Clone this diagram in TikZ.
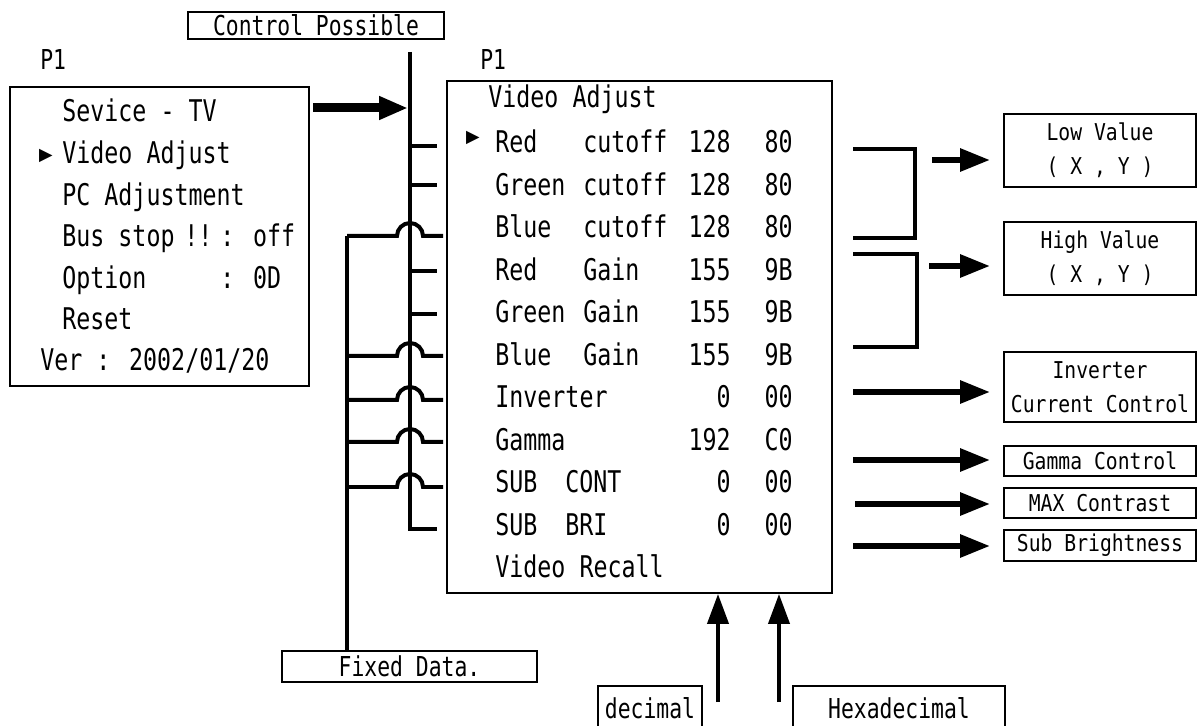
\documentclass[tikz,border=0pt]{standalone}
\usepackage{fontspec}
\usepackage{tikz}
\usetikzlibrary{arrows.meta, positioning}
\newfontfamily\dispfont[FakeStretch=0.78]{DejaVu Sans Mono}
\newfontfamily\tagfont[FakeStretch=0.85]{DejaVu Sans Mono}
\newfontfamily\symfont{DejaVu Sans}

\begin{document}
\begin{tikzpicture}[
    x=0.02cm, y=-0.02cm,
    box/.style = {draw, line width=0.04cm, inner sep=0pt},
    title/.style = {box, font=\dispfont\fontsize{15.6pt}{18pt}\selectfont},
    tag/.style = {box, minimum width=3.84cm, align=center, font=\tagfont\fontsize{13.2pt}{19.3pt}\selectfont},
    item/.style = {anchor=base west, inner sep=0pt, font=\dispfont\fontsize{17pt}{20pt}\selectfont},
    val/.style = {item, anchor=base east},
    page/.style = {anchor=base west, inner sep=0pt, font=\dispfont\fontsize{15.6pt}{18pt}\selectfont},
    pointer/.style = {inner sep=0pt, font=\symfont\fontsize{10pt}{10pt}\selectfont},
    bus/.style = {line width=0.08cm},
    fat/.style = {line width=0.12cm, -{Triangle[length=0.6cm, width=0.44cm]}, shorten >=0.26cm},
    feed/.style = {line width=0.08cm, -{Triangle[length=0.6cm, width=0.42cm]}},
    enter/.style = {line width=0.18cm, -{Triangle[length=0.58cm, width=0.44cm]}, shorten >=0.04cm}
]
\useasboundingbox (0,0) rectangle (1198,726);
\clip (0,0) rectangle (1198,726);

% Top label and page names
\node (ctrl) [title, minimum width=5.12cm, minimum height=0.54cm] at (316,25.5) {Control Possible};
\node (p1l) [page] at (40,70) {P1};
\node (p1r) [page] at (480,70) {P1};

% Service menu (left)
\node (svcmenu) [box, minimum width=5.98cm, minimum height=5.98cm] at (159.5,236.5) {};
\node (sv1) [item] at (62,122) {Sevice - TV};
\node (svmark) [pointer] at (46,156) {▶};
\node (sv2) [item] at (62,164) {Video Adjust};
\node (sv3) [item] at (62,206) {PC Adjustment};
\node (sv4) [item] at (62,247) {Bus stop};
\node (sv4x) [item] at (184,247) {!!};
\node (sv4v) [item] at (220,247) {: off};
\node (sv5) [item] at (62,289) {Option};
\node (sv5v) [item] at (220,289) {: 0D};
\node (sv6) [item] at (62,330) {Reset};
\node (sv7) [item] at (40,371) {Ver : 2002/01/20};

% Video Adjust menu (centre)
\node (menu) [box, minimum width=7.7cm, minimum height=10.24cm] at (639.5,337) {};
\node (vhead) [item] at (488,108) {Video Adjust};
\node (vmark) [pointer] at (473,138) {▶};
\node (r1a) [item] at (495,153) {Red};
\node (r1b) [item] at (583,153) {cutoff};
\node (r1c) [val] at (731,153) {128};
\node (r1d) [val] at (793,153) {80};
\node (r2a) [item] at (495,195.5) {Green};
\node (r2b) [item] at (583,195.5) {cutoff};
\node (r2c) [val] at (731,195.5) {128};
\node (r2d) [val] at (793,195.5) {80};
\node (r3a) [item] at (495,238) {Blue};
\node (r3b) [item] at (583,238) {cutoff};
\node (r3c) [val] at (731,238) {128};
\node (r3d) [val] at (793,238) {80};
\node (r4a) [item] at (495,280.5) {Red};
\node (r4b) [item] at (583,280.5) {Gain};
\node (r4c) [val] at (731,280.5) {155};
\node (r4d) [val] at (793,280.5) {9B};
\node (r5a) [item] at (495,323) {Green};
\node (r5b) [item] at (583,323) {Gain};
\node (r5c) [val] at (731,323) {155};
\node (r5d) [val] at (793,323) {9B};
\node (r6a) [item] at (495,365.5) {Blue};
\node (r6b) [item] at (583,365.5) {Gain};
\node (r6c) [val] at (731,365.5) {155};
\node (r6d) [val] at (793,365.5) {9B};
\node (r7a) [item] at (495,408) {Inverter};
\node (r7c) [val] at (731,408) {0};
\node (r7d) [val] at (793,408) {00};
\node (r8a) [item] at (495,450.5) {Gamma};
\node (r8c) [val] at (731,450.5) {192};
\node (r8d) [val] at (793,450.5) {C0};
\node (r9a) [item] at (495,493) {SUB};
\node (r9b) [item] at (565,493) {CONT};
\node (r9c) [val] at (731,493) {0};
\node (r9d) [val] at (793,493) {00};
\node (r10a) [item] at (495,535.5) {SUB};
\node (r10b) [item] at (565,535.5) {BRI};
\node (r10c) [val] at (731,535.5) {0};
\node (r10d) [val] at (793,535.5) {00};
\node (vrecall) [item] at (495,578) {Video Recall};

% Result boxes (right)
\node (lowbox) [tag, minimum height=1.46cm] at (1100,150.5) {Low Value\\( X , Y )};
\node (highbox) [tag, minimum height=1.46cm] at (1100,258.5) {High Value\\( X , Y )};
\node (invbox) [tag, minimum height=1.4cm] at (1100,387) {Inverter\\Current Control};
\node (gambox) [tag, minimum height=0.6cm] at (1100,461) {Gamma Control};
\node (maxbox) [tag, minimum height=0.6cm] at (1100,503) {MAX Contrast};
\node (subbox) [tag, minimum height=0.62cm] at (1100,545.5) {Sub Brightness};

% Bottom labels
\node (fixed) [title, minimum width=5.1cm, minimum height=0.62cm] at (409.5,666.5) {Fixed Data.};
\node (decbox) [title, minimum width=2.08cm, minimum height=0.88cm] at (650,708) {decimal};
\node (hexbox) [title, minimum width=4.24cm, minimum height=0.88cm] at (899,708) {Hexadecimal};

% Control bus
\coordinate (bustop) at (410,52);
\coordinate (busend) at (410,529);
\coordinate (entry) at (313,108);
\draw [enter] (entry) -- (entry -| bustop);
\draw [bus] (bustop) -- (busend) -- ++(27,0);
\draw [bus] (410,146) -- ++(27,0);
\draw [bus] (410,185) -- ++(27,0);
\draw [bus] (410,271) -- ++(27,0);
\draw [bus] (410,314) -- ++(27,0);

% Fixed data lines hopping over the bus
\coordinate (fixtop) at (347,236);
\draw [bus] (fixtop) -- (fixtop |- fixed.north);
\draw [bus] (fixtop) -- (397,236) arc[start angle=180, end angle=0, radius=0.26cm] -- (443,236);
\draw [bus] (347,356) -- (397,356) arc[start angle=180, end angle=0, radius=0.26cm] -- (443,356);
\draw [bus] (347,400) -- (397,400) arc[start angle=180, end angle=0, radius=0.26cm] -- (443,400);
\draw [bus] (347,442) -- (397,442) arc[start angle=180, end angle=0, radius=0.26cm] -- (443,442);
\draw [bus] (347,487) -- (397,487) arc[start angle=180, end angle=0, radius=0.26cm] -- (443,487);

% Brackets and outputs
\draw [bus] (853,149) -| (915,238) -- (853,238);
\draw [bus] (853,254) -| (917,347) -- (853,347);
\coordinate (lowsrc) at (932,160);
\coordinate (highsrc) at (929,266);
\coordinate (invsrc) at (853,392);
\coordinate (gamsrc) at (853,460);
\coordinate (maxsrc) at (855,504);
\coordinate (subsrc) at (853,546);
\draw [fat] (lowsrc) -- (lowsrc -| lowbox.west);
\draw [fat] (highsrc) -- (highsrc -| highbox.west);
\draw [fat] (invsrc) -- (invsrc -| invbox.west);
\draw [fat] (gamsrc) -- (gamsrc -| gambox.west);
\draw [fat] (maxsrc) -- (maxsrc -| maxbox.west);
\draw [fat] (subsrc) -- (subsrc -| subbox.west);

% Number formats into the menu
\coordinate (decsrc) at (718,702);
\coordinate (hexsrc) at (779,702);
\draw [feed] (decsrc) -- (decsrc |- menu.south);
\draw [feed] (hexsrc) -- (hexsrc |- menu.south);

\end{tikzpicture}
\end{document}
